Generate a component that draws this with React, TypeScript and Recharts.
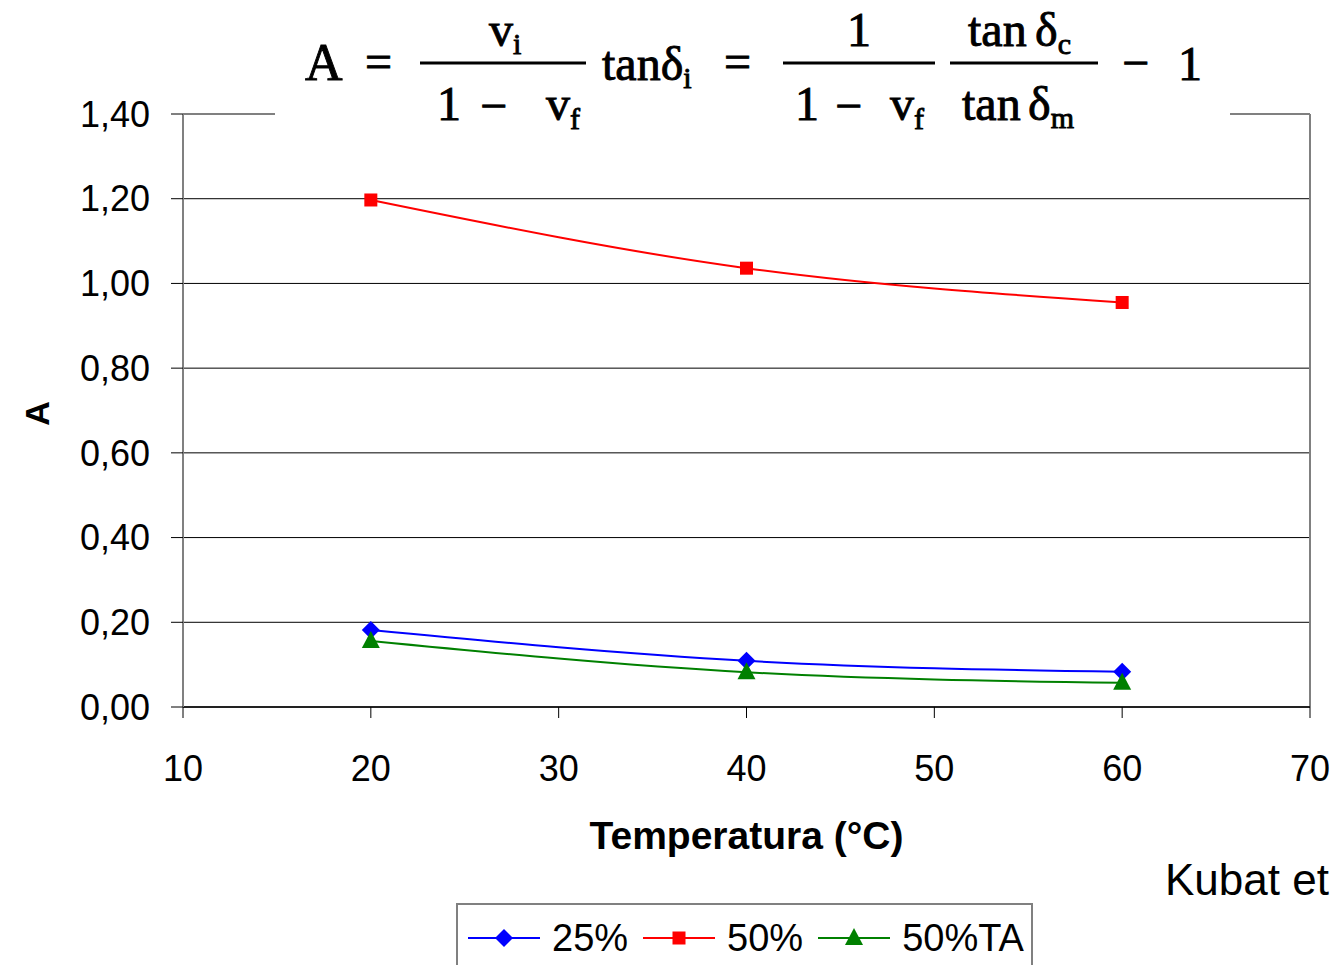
import { CartesianGrid, Label, Line, LineChart, ReferenceLine, XAxis, YAxis } from 'recharts'

// temperatura (°C) and A values
const temps = [20, 40, 60]
const a25 = [0.182, 0.109, 0.083]
const a50 = [1.197, 1.036, 0.955]
const a50ta = [0.156, 0.082, 0.057]

const xTicks = [10, 20, 30, 40, 50, 60, 70]
const yTicks = [0, 0.2, 0.4, 0.6, 0.8, 1.0, 1.2, 1.4]

const SERIES = [
  { key: 's25', name: '25%', color: '#0000FF', shape: 'diamond' },
  { key: 's50', name: '50%', color: '#FF0000', shape: 'square' },
  { key: 's50ta', name: '50%TA', color: '#008000', shape: 'triangle' },
]

const SANS = '"Liberation Sans", Arial, sans-serif'
const SERIF = '"Liberation Serif", "Times New Roman", serif'
const BORDER = '#808080'

const chartData = temps.map((t, i) => ({
  t,
  s25: a25[i],
  s50: a50[i],
  s50ta: a50ta[i],
}))

function Marker({ cx, cy, shape, color }: { cx: number; cy: number; shape: string; color: string }) {
  if (shape === 'diamond') {
    return <path d={`M${cx},${cy - 9} L${cx + 9},${cy} L${cx},${cy + 9} L${cx - 9},${cy} Z`} fill={color} />
  }
  if (shape === 'square') {
    return <rect x={cx - 6.5} y={cy - 6.5} width={13} height={13} fill={color} />
  }
  return <path d={`M${cx},${cy - 10} L${cx + 9},${cy + 7} L${cx - 9},${cy + 7} Z`} fill={color} />
}

const fmt = (v: number) => v.toFixed(2).replace('.', ',')

// formula image above the plot, redrawn as text
function Formula() {
  const sub = 30
  return (
    <g fontFamily={SERIF} fontSize={48} fill="#000" stroke="#000" strokeWidth={0.9}>
      <rect x={275} y={0} width={955} height={135} fill="#fff" stroke="none" />
      <text x={305} y={80} fontSize={52}>A</text>
      <text x={365} y={78}>=</text>
      {/* v_i / (1 - v_f) */}
      <line x1={420} x2={586} y1={63} y2={63} stroke="#000" strokeWidth={3} />
      <text x={489} y={46}>
        v<tspan fontSize={sub} dy={8}>i</tspan>
      </text>
      <text x={437} y={120}>1</text>
      <text x={480} y={122}>−</text>
      <text x={546} y={120}>
        v<tspan fontSize={sub} dy={9}>f</tspan>
      </text>
      <text x={602} y={80}>
        tanδ<tspan fontSize={sub} dy={8}>i</tspan>
      </text>
      <text x={724} y={78}>=</text>
      {/* 1 / (1 - v_f) */}
      <line x1={783} x2={935} y1={63} y2={63} stroke="#000" strokeWidth={3} />
      <text x={859} y={46} textAnchor="middle">1</text>
      <text x={795} y={120}>1</text>
      <text x={835} y={122}>−</text>
      <text x={890} y={120}>
        v<tspan fontSize={sub} dy={9}>f</tspan>
      </text>
      {/* tan δc / tan δm */}
      <line x1={950} x2={1098} y1={63} y2={63} stroke="#000" strokeWidth={3} />
      <text x={968} y={46}>tan</text>
      <text x={1035} y={46}>
        δ<tspan fontSize={sub} dy={8}>c</tspan>
      </text>
      <text x={962} y={120}>tan</text>
      <text x={1028} y={120}>
        δ<tspan fontSize={sub} dy={8}>m</tspan>
      </text>
      <text x={1122} y={79}>−</text>
      <text x={1178} y={80}>1</text>
    </g>
  )
}

function ChartLegend() {
  return (
    <div
      style={{
        position: 'absolute',
        left: 456,
        top: 903,
        width: 577,
        height: 70,
        boxSizing: 'border-box',
        border: `2px solid ${BORDER}`,
        background: '#fff',
        display: 'flex',
        alignItems: 'center',
        paddingLeft: 10,
        fontFamily: SANS,
        fontSize: 38,
        color: '#000',
      }}
    >
      {SERIES.map((s) => (
        <span key={s.key} style={{ display: 'inline-flex', alignItems: 'center', marginRight: 15 }}>
          <svg width={72} height={24} style={{ marginRight: 12 }}>
            <line x1={0} x2={72} y1={12} y2={12} stroke={s.color} strokeWidth={2} />
            <Marker cx={36} cy={12} shape={s.shape} color={s.color} />
          </svg>
          <span style={{ lineHeight: 1 }}>{s.name}</span>
        </span>
      ))}
    </div>
  )
}

export default function App() {
  return (
    <div
      style={{
        position: 'fixed',
        left: 0,
        top: 0,
        width: 1335,
        height: 965,
        overflow: 'hidden',
        background: '#fff',
        fontFamily: SANS,
      }}
    >
      <LineChart width={1335} height={965} data={chartData} margin={{ top: 114, right: 25, left: 63, bottom: 118 }}>
        <CartesianGrid vertical={false} stroke="#000" strokeWidth={1} />
        <XAxis
          dataKey="t"
          type="number"
          domain={[10, 70]}
          ticks={xTicks}
          interval={0}
          height={140}
          tickSize={11}
          tickMargin={37}
          tick={{ fill: '#000', fontSize: 36, fontFamily: SANS }}
          tickLine={{ stroke: '#000' }}
          axisLine={{ stroke: '#222', strokeWidth: 2 }}
        >
          <Label
            content={({ viewBox }: any) => {
              const vb = viewBox || { x: 183, width: 1127, y: 707 }
              return (
                <text
                  x={vb.x + vb.width / 2}
                  y={vb.y + 142}
                  textAnchor="middle"
                  fontFamily={SANS}
                  fontWeight="bold"
                  fontSize={39}
                  fill="#000"
                >
                  Temperatura (°C)
                </text>
              )
            }}
          />
        </XAxis>
        <YAxis
          type="number"
          domain={[0, 1.4]}
          ticks={yTicks}
          interval={0}
          width={120}
          tickSize={12}
          tickMargin={21}
          tickFormatter={fmt}
          tick={{ fill: '#000', fontSize: 36, fontFamily: SANS }}
          tickLine={{ stroke: '#000' }}
          axisLine={{ stroke: BORDER, strokeWidth: 2 }}
        >
          <Label
            content={({ viewBox }: any) => {
              const vb = viewBox || { x: 63, y: 114, height: 593 }
              const x = vb.x - 26
              const y = vb.y + vb.height / 2 + 3
              return (
                <text
                  x={x}
                  y={y}
                  transform={`rotate(-90 ${x} ${y})`}
                  textAnchor="middle"
                  dominantBaseline="central"
                  fontFamily={SANS}
                  fontWeight="bold"
                  fontSize={34}
                  fill="#000"
                >
                  A
                </text>
              )
            }}
          />
        </YAxis>
        <ReferenceLine y={1.4} stroke={BORDER} strokeWidth={2} />
        <ReferenceLine x={70} stroke={BORDER} strokeWidth={2} />
        {SERIES.map((s) => (
          <Line
            key={s.key}
            type="monotone"
            dataKey={s.key}
            name={s.name}
            stroke={s.color}
            strokeWidth={2}
            dot={(p: any) => <Marker key={`${s.key}-${p.index}`} cx={p.cx} cy={p.cy} shape={s.shape} color={s.color} />}
            activeDot={false}
            isAnimationActive={false}
          />
        ))}
      </LineChart>
      <svg
        width={1335}
        height={965}
        style={{ position: 'absolute', left: 0, top: 0, pointerEvents: 'none' }}
      >
        <Formula />
        <text x={1165} y={895} fontFamily={SANS} fontSize={44} fill="#000">
          Kubat et
        </text>
      </svg>
      <ChartLegend />
    </div>
  )
}
